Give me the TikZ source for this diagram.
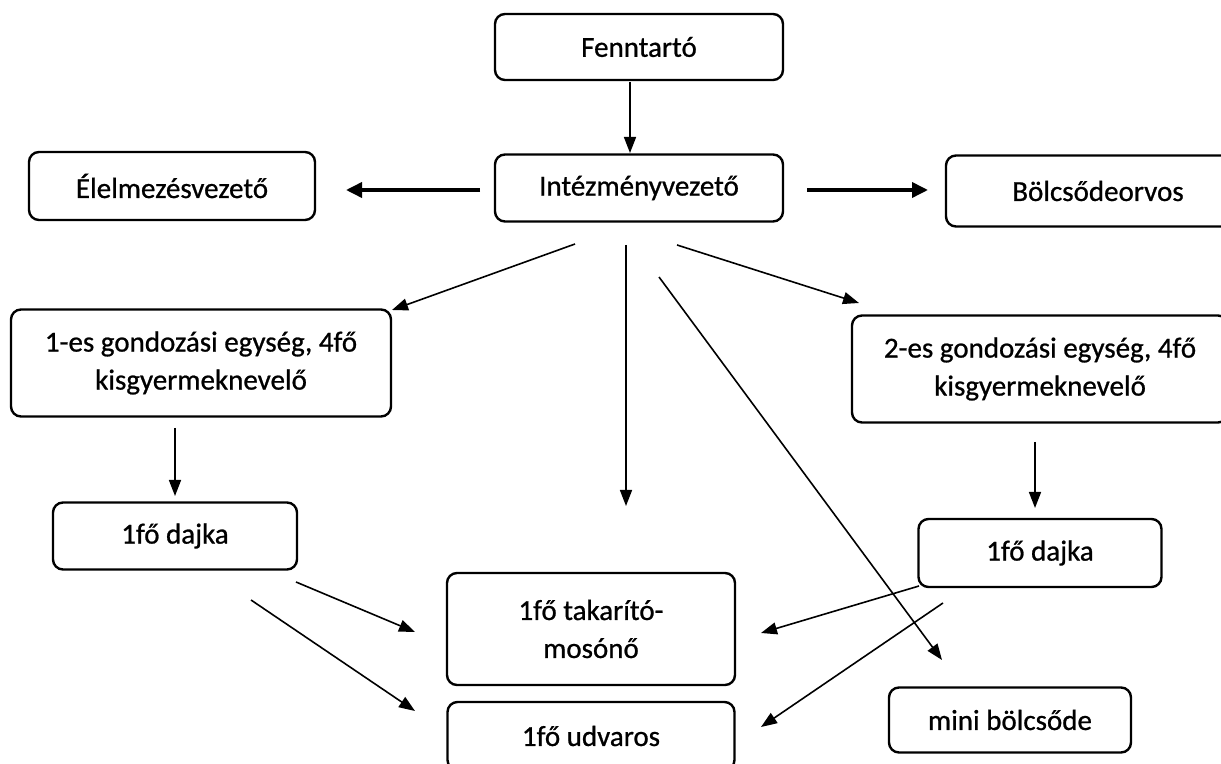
\documentclass[tikz,border=0pt]{standalone}
\usepackage{fontspec}
\setmainfont{Carlito}[FakeBold=0.8]
\usetikzlibrary{arrows.meta}

\begin{document}
\begin{tikzpicture}[
	x=0.5pt, y=-0.5pt,
	doboz/.style={draw, rectangle, rounded corners=5pt, line width=1.2pt, align=center,
		font=\fontsize{14.5}{19}\selectfont, inner sep=0pt},
	nyil/.style={-{Triangle[length=8pt,width=6pt]}, line width=0.8pt},
	vastag/.style={-{Triangle[length=8pt,width=7.5pt]}, line width=1.8pt}
	]
	\useasboundingbox (0,0) rectangle (1221,764);

	\node[doboz, minimum width=144pt, minimum height=33pt] (fenn) at (639,47) {Fenntartó};
	\node[doboz, minimum width=144pt, minimum height=33.5pt] (intez) at (639,188) {Intézményvezető};
	\node[doboz, minimum width=143pt, minimum height=34pt] (elelm) at (172,186) {Élelmezésvezető};
	\node[doboz, minimum width=152pt, minimum height=35.5pt] (bolcs) at (1098,191) {Bölcsődeorvos};

	\node[doboz, minimum width=190pt, minimum height=53.5pt] (egy1) at (201,363) {1-es gondozási egység, 4fő\\kisgyermeknevelő};
	\node[doboz, minimum width=188pt, minimum height=53.5pt] (egy2) at (1040,369) {2-es gondozási egység, 4fő\\kisgyermeknevelő};

	\node[doboz, minimum width=122pt, minimum height=33.5pt] (dajka1) at (175,536) {1fő dajka};
	\node[doboz, minimum width=121.5pt, minimum height=34pt] (dajka2) at (1040,553) {1fő dajka};

	\node[doboz, minimum width=144pt, minimum height=56pt] (tak) at (591,629) {1fő takarító-\\mosónő};
	\node[doboz, minimum width=143.5pt, minimum height=34pt] (udv) at (591,736) {1fő udvaros};
	\node[doboz, minimum width=121pt, minimum height=32.5pt] (mini) at (1010,720) {mini bölcsőde};

	% nyilak vegpontjai
	\coordinate (f1) at (630,82);   \coordinate (f2) at (630,153);
	\coordinate (e1) at (480,190);  \coordinate (e2) at (346,190);
	\coordinate (b1) at (807,190);  \coordinate (b2) at (928,190);
	\coordinate (i1) at (575,244);  \coordinate (g1) at (392,310);
	\coordinate (i2) at (626,245);  \coordinate (k1) at (626,506);
	\coordinate (i3) at (659,277);  \coordinate (m1) at (942,660);
	\coordinate (i4) at (677,245);  \coordinate (g2) at (859,303);
	\coordinate (a1) at (175,428);  \coordinate (d1) at (175,496);
	\coordinate (a2) at (1035,442); \coordinate (d2) at (1035,508);
	\coordinate (l1) at (296,582);  \coordinate (t1) at (415,632);
	\coordinate (l2) at (251,600);  \coordinate (u1) at (415,711);
	\coordinate (r1) at (919,586);  \coordinate (t2) at (761,633);
	\coordinate (r2) at (943,603);  \coordinate (u2) at (761,727);

	\draw[nyil] (f1) -- (f2);
	\draw[vastag] (e1) -- (e2);
	\draw[vastag] (b1) -- (b2);
	\draw[nyil] (i1) -- (g1);
	\draw[nyil] (i2) -- (k1);
	\draw[nyil] (i3) -- (m1);
	\draw[nyil] (i4) -- (g2);
	\draw[nyil] (a1) -- (d1);
	\draw[nyil] (a2) -- (d2);
	\draw[nyil] (l1) -- (t1);
	\draw[nyil] (l2) -- (u1);
	\draw[nyil] (r1) -- (t2);
	\draw[nyil] (r2) -- (u2);
\end{tikzpicture}
\end{document}
